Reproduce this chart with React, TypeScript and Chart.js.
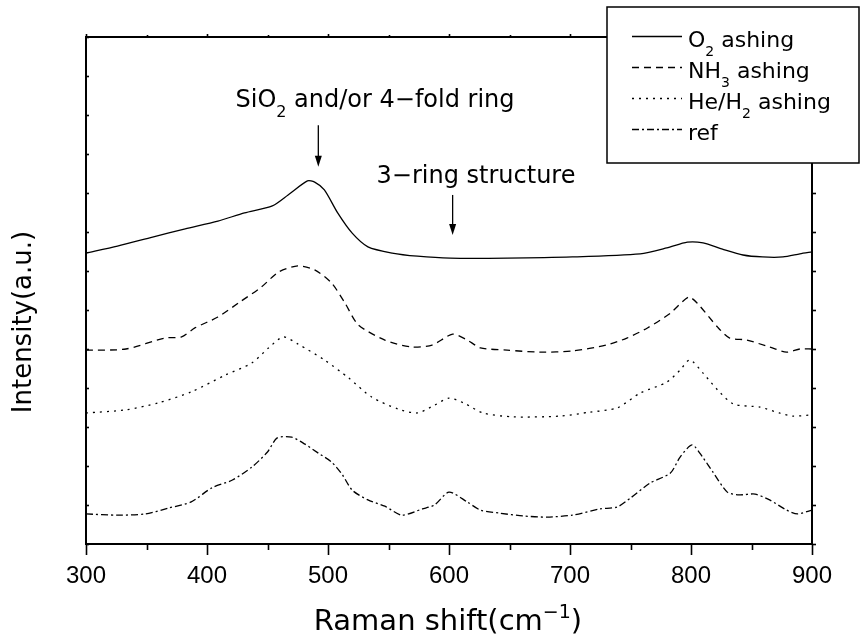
import React, { useEffect, useRef } from "react";
import { Chart, registerables } from "chart.js";

Chart.register(...registerables);

// Raman spectra (cm^-1 vs. offset intensity, arbitrary units)
const o2Shift = [300, 326, 355, 382, 409, 431, 454, 467, 483, 489, 497, 508, 520, 533, 553, 574, 601, 648, 702, 758, 780, 797, 810, 826, 843, 859, 876, 890, 900];
const o2Intensity = [7.46, 7.64, 7.87, 8.08, 8.28, 8.49, 8.67, 8.95, 9.31, 9.28, 9.08, 8.49, 7.97, 7.62, 7.46, 7.38, 7.33, 7.33, 7.36, 7.44, 7.59, 7.74, 7.72, 7.56, 7.41, 7.36, 7.36, 7.44, 7.49];

const nh3Shift = [300, 333, 365, 379, 390, 409, 426, 445, 459, 475, 489, 503, 514, 525, 547, 569, 586, 603, 615, 626, 648, 675, 702, 730, 747, 764, 783, 798, 805, 822, 832, 846, 865, 879, 890, 900];
const nh3Intensity = [4.97, 5.0, 5.28, 5.31, 5.54, 5.82, 6.18, 6.59, 6.97, 7.13, 7.03, 6.69, 6.18, 5.62, 5.23, 5.05, 5.1, 5.38, 5.23, 5.03, 4.97, 4.92, 4.95, 5.1, 5.28, 5.54, 5.92, 6.33, 6.18, 5.56, 5.28, 5.23, 5.05, 4.92, 5.0, 5.0];

const heH2Shift = [300, 333, 360, 387, 415, 437, 451, 463, 475, 497, 517, 536, 558, 574, 588, 600, 612, 628, 653, 692, 716, 739, 758, 780, 791, 799, 810, 822, 835, 857, 873, 884, 900];
const heH2Intensity = [3.36, 3.44, 3.62, 3.9, 4.33, 4.64, 5.03, 5.31, 5.13, 4.72, 4.26, 3.77, 3.46, 3.36, 3.56, 3.74, 3.62, 3.36, 3.26, 3.28, 3.38, 3.49, 3.87, 4.15, 4.46, 4.72, 4.38, 3.95, 3.59, 3.51, 3.36, 3.28, 3.31];

const refShift = [300, 326, 349, 368, 387, 404, 421, 437, 450, 458, 470, 481, 492, 503, 512, 520, 533, 547, 561, 578, 588, 600, 615, 626, 642, 661, 681, 702, 725, 739, 750, 766, 783, 791, 801, 810, 818, 830, 840, 853, 865, 879, 888, 900];
const refIntensity = [0.77, 0.74, 0.77, 0.92, 1.08, 1.44, 1.64, 1.97, 2.36, 2.72, 2.74, 2.56, 2.33, 2.1, 1.77, 1.38, 1.13, 0.97, 0.74, 0.9, 1.0, 1.33, 1.08, 0.87, 0.79, 0.72, 0.69, 0.74, 0.9, 0.95, 1.18, 1.56, 1.82, 2.23, 2.54, 2.21, 1.85, 1.33, 1.26, 1.28, 1.13, 0.87, 0.77, 0.87];

const xMin = 300;
const xMax = 900;
const xMajorStep = 100;
const xMinorStep = 50;
const yMin = 0;
const yMax = 13;
const yStep = 1;

// Peak markers: [shift, label baseline, arrow start, arrow tip] in data units
const peakSiO2 = { shift: 492, textY: 11.2, fromY: 10.74, toY: 9.67 };
const peak3Ring = { shift: 603, textY: 9.26, fromY: 8.95, toY: 7.92 };

type Part = { t: string; s?: "sub" | "sup" };

const seriesStyles = [
  { label: [{ t: "O" }, { t: "2", s: "sub" }, { t: " ashing" }] as Part[], dash: [] as number[] },
  { label: [{ t: "NH" }, { t: "3", s: "sub" }, { t: " ashing" }] as Part[], dash: [7, 5] },
  { label: [{ t: "He/H" }, { t: "2", s: "sub" }, { t: " ashing" }] as Part[], dash: [2, 5] },
  { label: [{ t: "ref" }] as Part[], dash: [7, 3, 2, 3] },
];

const FONT = "'DejaVu Sans', sans-serif";

function drawRich(ctx: CanvasRenderingContext2D, parts: Part[], x: number, y: number, size: number, align: "left" | "center") {
  const subSize = Math.round(size * 0.65);
  const widths = parts.map((p) => {
    ctx.font = `${p.s ? subSize : size}px ${FONT}`;
    return ctx.measureText(p.t).width;
  });
  const total = widths.reduce((a, b) => a + b, 0);
  let cx = align === "center" ? x - total / 2 : x;
  ctx.textAlign = "left";
  ctx.textBaseline = "alphabetic";
  parts.forEach((p, i) => {
    ctx.font = `${p.s ? subSize : size}px ${FONT}`;
    const dy = p.s === "sub" ? size * 0.4 : p.s === "sup" ? -size * 0.42 : 0;
    ctx.fillText(p.t, cx, y + dy);
    cx += widths[i];
  });
}

function line(ctx: CanvasRenderingContext2D, x1: number, y1: number, x2: number, y2: number) {
  ctx.beginPath();
  ctx.moveTo(x1, y1);
  ctx.lineTo(x2, y2);
  ctx.stroke();
}

function arrow(ctx: CanvasRenderingContext2D, x: number, y1: number, y2: number) {
  const head = 11;
  ctx.lineWidth = 1.3;
  line(ctx, x, y1, x, y2 - head + 1);
  ctx.beginPath();
  ctx.moveTo(x - 3.5, y2 - head);
  ctx.lineTo(x + 3.5, y2 - head);
  ctx.lineTo(x, y2);
  ctx.closePath();
  ctx.fill();
}

const decorPlugin = {
  id: "decor",
  afterDraw(chart: any) {
    const { ctx, chartArea: a, scales } = chart;
    const xs = scales.x;
    const ys = scales.y;
    ctx.save();
    ctx.strokeStyle = "#000";
    ctx.fillStyle = "#000";

    // plot frame
    ctx.lineWidth = 2;
    ctx.strokeRect(a.left, a.top, a.right - a.left, a.bottom - a.top);

    // x ticks (bottom outward, top outward short)
    ctx.lineWidth = 1.6;
    for (let v = xMin; v <= xMax; v += xMinorStep) {
      const px = Math.round(xs.getPixelForValue(v)) + 0.5;
      const major = v % xMajorStep === 0;
      line(ctx, px, a.bottom, px, a.bottom + (major ? 11 : 6));
      line(ctx, px, a.top, px, a.top - (major ? 3 : 2));
    }
    // y ticks
    for (let v = yMin; v <= yMax; v += yStep) {
      const py = Math.round(ys.getPixelForValue(v)) + 0.5;
      line(ctx, a.left, py, a.left + 3, py);
      line(ctx, a.right, py, a.right + 4, py);
    }

    // axis titles
    drawRich(ctx, [{ t: "Raman shift(cm" }, { t: "−1", s: "sup" }, { t: ")" }], 448, 630, 29, "center");
    ctx.save();
    ctx.translate(31, 322);
    ctx.rotate(-Math.PI / 2);
    drawRich(ctx, [{ t: "Intensity(a.u.)" }], 0, 0, 26, "center");
    ctx.restore();

    // peak annotations
    const x1 = xs.getPixelForValue(peakSiO2.shift);
    drawRich(ctx, [{ t: "SiO" }, { t: "2", s: "sub" }, { t: " and/or 4−fold ring" }], 375, ys.getPixelForValue(peakSiO2.textY), 24, "center");
    arrow(ctx, x1, ys.getPixelForValue(peakSiO2.fromY), ys.getPixelForValue(peakSiO2.toY));
    const x2 = xs.getPixelForValue(peak3Ring.shift);
    drawRich(ctx, [{ t: "3−ring structure" }], 476, ys.getPixelForValue(peak3Ring.textY), 24, "center");
    arrow(ctx, x2, ys.getPixelForValue(peak3Ring.fromY), ys.getPixelForValue(peak3Ring.toY));

    // legend box
    const bx = 607, by = 7, bw = 252, bh = 156;
    ctx.fillStyle = "#fff";
    ctx.fillRect(bx, by, bw, bh);
    ctx.lineWidth = 1.5;
    ctx.strokeRect(bx, by, bw, bh);
    ctx.fillStyle = "#000";
    const rowsY = [47, 78, 109, 140];
    seriesStyles.forEach((s, i) => {
      const ly = rowsY[i] - 10.5;
      ctx.lineWidth = 1.3;
      ctx.setLineDash(s.dash);
      line(ctx, 632, ly, 682, ly);
      ctx.setLineDash([]);
      drawRich(ctx, s.label, 688, rowsY[i], 22, "left");
    });

    ctx.restore();
  },
};

export default function App() {
  const canvasRef = useRef<HTMLCanvasElement | null>(null);

  useEffect(() => {
    const canvas = canvasRef.current;
    if (!canvas) return;
    const pack = (xsArr: number[], ysArr: number[]) => xsArr.map((x, i) => ({ x, y: ysArr[i] }));
    const series = [
      pack(o2Shift, o2Intensity),
      pack(nh3Shift, nh3Intensity),
      pack(heH2Shift, heH2Intensity),
      pack(refShift, refIntensity),
    ];
    const chart = new Chart(canvas, {
      type: "line",
      data: {
        datasets: series.map((d, i) => ({
          label: seriesStyles[i].label.map((p) => p.t).join(""),
          data: d,
          borderColor: "#000",
          borderWidth: 1.3,
          borderDash: seriesStyles[i].dash,
          pointRadius: 0,
          tension: 0.25,
          fill: false,
        })),
      },
      options: {
        animation: false,
        responsive: false,
        devicePixelRatio: 1,
        layout: { padding: { left: 86, top: 37, right: 49, bottom: 0 } },
        plugins: { legend: { display: false }, tooltip: { enabled: false } },
        scales: {
          x: {
            type: "linear",
            min: xMin,
            max: xMax,
            border: { display: false },
            grid: { display: false, drawTicks: false },
            ticks: {
              stepSize: xMajorStep,
              color: "#000",
              padding: 18,
              maxRotation: 0,
              font: { family: "'Liberation Sans', Arial, sans-serif", size: 24 },
            },
            afterFit: (scale: any) => {
              scale.height = 97;
            },
          },
          y: {
            type: "linear",
            min: yMin,
            max: yMax,
            display: false,
            ticks: { stepSize: yStep },
          },
        },
      },
      plugins: [decorPlugin],
    });
    return () => chart.destroy();
  }, []);

  return (
    <div style={{ position: "fixed", left: 0, top: 0, width: 861, height: 641, background: "#fff" }}>
      <canvas ref={canvasRef} width={861} height={641} />
    </div>
  );
}
